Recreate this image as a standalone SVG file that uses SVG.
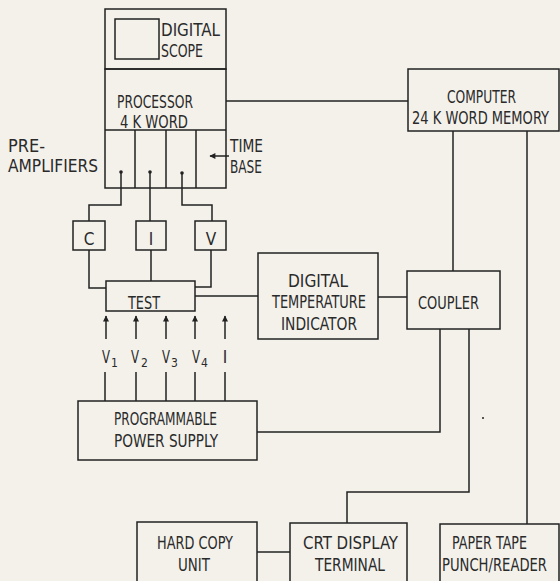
<svg xmlns="http://www.w3.org/2000/svg" width="560" height="581" viewBox="0 0 560 581">
<defs>
<style>
.b{fill:none;stroke:#222;stroke-width:1.5}
.l{fill:none;stroke:#222;stroke-width:1.5}
text{font-family:"DejaVu Sans Condensed","Liberation Sans Narrow","Liberation Sans",sans-serif;font-size:17px;fill:#2a2a2a}
.s{font-size:12px}
</style>
<marker id="ah" viewBox="0 0 10 10" refX="9" refY="5" markerWidth="7" markerHeight="6" orient="auto-start-reverse" markerUnits="userSpaceOnUse">
<path d="M0,0 L10,5 L0,10 z" fill="#222"/>
</marker>
</defs>
<rect width="560" height="581" fill="#f3f1ea"/>

<g id="scope">
<rect class="b" x="105" y="9" width="121" height="60"/>
<rect class="b" x="115" y="19" width="44" height="40"/>
<text x="161" y="36" textLength="59" lengthAdjust="spacingAndGlyphs">DIGITAL</text>
<text x="161" y="57" textLength="42" lengthAdjust="spacingAndGlyphs">SCOPE</text>
</g>

<g id="processor">
<rect class="b" x="105" y="69" width="121" height="119"/>
<text x="117" y="108" textLength="76" lengthAdjust="spacingAndGlyphs">PROCESSOR</text>
<text x="120" y="128" textLength="68" lengthAdjust="spacingAndGlyphs">4 K WORD</text>
</g>

<g id="preamplifiers">
<path class="l" d="M105,130 H226 M135,130 V188 M166,130 V188 M196,130 V188"/>
<circle cx="121" cy="172" r="1.8" fill="#222"/>
<circle cx="150" cy="172" r="1.8" fill="#222"/>
<circle cx="182" cy="173" r="1.8" fill="#222"/>
<text x="8" y="152" textLength="37" lengthAdjust="spacingAndGlyphs">PRE-</text>
<text x="8" y="172" textLength="90" lengthAdjust="spacingAndGlyphs">AMPLIFIERS</text>
</g>

<g id="timebase">
<text x="230" y="152" textLength="33" lengthAdjust="spacingAndGlyphs">TIME</text>
<text x="230" y="173" textLength="32" lengthAdjust="spacingAndGlyphs">BASE</text>
</g>

<g id="computer">
<rect class="b" x="408" y="69" width="151" height="62"/>
<text x="447" y="103" textLength="69" lengthAdjust="spacingAndGlyphs">COMPUTER</text>
<text x="412" y="124" textLength="137" lengthAdjust="spacingAndGlyphs">24 K WORD MEMORY</text>
</g>

<g id="c">
<rect class="b" x="73" y="221" width="32" height="29"/>
<text x="89" y="245" text-anchor="middle">C</text>
</g>
<g id="i">
<rect class="b" x="136" y="221" width="30" height="29"/>
<text x="151" y="245" text-anchor="middle">I</text>
</g>
<g id="v">
<rect class="b" x="195" y="221" width="31" height="29"/>
<text x="211" y="245" text-anchor="middle">V</text>
</g>

<g id="test">
<rect class="b" x="106" y="281" width="89" height="30"/>
<text x="128" y="309" textLength="32" lengthAdjust="spacingAndGlyphs">TEST</text>
</g>

<g id="dti">
<rect class="b" x="258" y="253" width="120" height="86"/>
<text x="288" y="287" textLength="60" lengthAdjust="spacingAndGlyphs">DIGITAL</text>
<text x="272" y="308" textLength="94" lengthAdjust="spacingAndGlyphs">TEMPERATURE</text>
<text x="281" y="330" textLength="76" lengthAdjust="spacingAndGlyphs">INDICATOR</text>
</g>

<g id="coupler">
<rect class="b" x="407" y="271" width="93" height="58"/>
<text x="418" y="309" textLength="61" lengthAdjust="spacingAndGlyphs">COUPLER</text>
</g>

<g id="inputs">
<text x="102" y="363" textLength="8" lengthAdjust="spacingAndGlyphs">V</text><text class="s" x="111" y="367">1</text>
<text x="131" y="363" textLength="8" lengthAdjust="spacingAndGlyphs">V</text><text class="s" x="141" y="367">2</text>
<text x="162" y="363" textLength="8" lengthAdjust="spacingAndGlyphs">V</text><text class="s" x="171" y="367">3</text>
<text x="192" y="363" textLength="8" lengthAdjust="spacingAndGlyphs">V</text><text class="s" x="201" y="367">4</text>
<text x="225" y="363" text-anchor="middle">I</text>
</g>

<g id="pps">
<rect class="b" x="78" y="401" width="179" height="59"/>
<text x="114" y="425" textLength="103" lengthAdjust="spacingAndGlyphs">PROGRAMMABLE</text>
<text x="114" y="447" textLength="104" lengthAdjust="spacingAndGlyphs">POWER SUPPLY</text>
</g>

<g id="hardcopy">
<path class="b" d="M137,581 V522 H257 V581"/>
<text x="157" y="549" textLength="76" lengthAdjust="spacingAndGlyphs">HARD COPY</text>
<text x="178" y="571" textLength="32" lengthAdjust="spacingAndGlyphs">UNIT</text>
</g>

<g id="crt">
<path class="b" d="M290,581 V523 H407 V581"/>
<text x="303" y="549" textLength="95" lengthAdjust="spacingAndGlyphs">CRT DISPLAY</text>
<text x="315" y="571" textLength="70" lengthAdjust="spacingAndGlyphs">TERMINAL</text>
</g>

<g id="papertape">
<path class="b" d="M440,581 V524 H559 V581"/>
<text x="452" y="549" textLength="75" lengthAdjust="spacingAndGlyphs">PAPER TAPE</text>
<text x="442" y="571" textLength="105" lengthAdjust="spacingAndGlyphs">PUNCH/READER</text>
</g>

<g id="connectors">
<path class="l" d="M226,101 H408"/>
<path class="l" d="M229,156 H210" marker-end="url(#ah)"/>
<path class="l" d="M121,172 V205 H89 V221"/>
<path class="l" d="M150,172 V221"/>
<path class="l" d="M182,173 V205 H212 V221"/>
<path class="l" d="M89,250 V288 H106"/>
<path class="l" d="M151,250 V281"/>
<path class="l" d="M211,250 V287 H195"/>
<path class="l" d="M195,296 H258"/>
<path class="l" d="M378,297 H407"/>
<path class="l" d="M453,131 V271"/>
<path class="l" d="M527,131 V524"/>
<path class="l" d="M440,329 V432 H257"/>
<path class="l" d="M469,329 V492 H347 V523"/>
<path class="l" d="M257,552 H290"/>
<path class="l" d="M106,339 V316" marker-end="url(#ah)"/>
<path class="l" d="M136,339 V316" marker-end="url(#ah)"/>
<path class="l" d="M166,339 V316" marker-end="url(#ah)"/>
<path class="l" d="M195,339 V316" marker-end="url(#ah)"/>
<path class="l" d="M225,339 V316" marker-end="url(#ah)"/>
<path class="l" d="M105,372 V401 M136,372 V401 M166,372 V401 M195,372 V401 M225,372 V401"/>
</g>
<circle cx="483" cy="418" r="1" fill="#222"/>
</svg>
